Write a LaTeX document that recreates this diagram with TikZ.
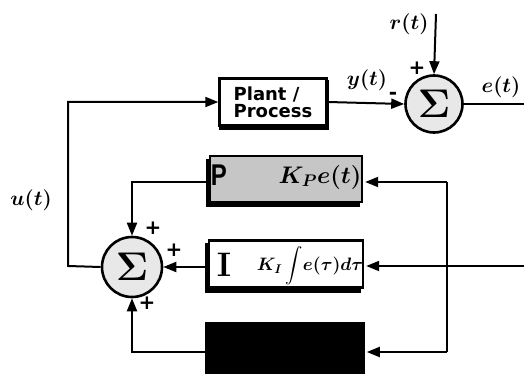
\RequirePackage{fix-cm}
\documentclass[tikz,border=0pt]{standalone}
\usepackage{fontspec}
\usepackage{amsmath}
\newfontfamily\plantfont{DejaVu Sans}
\newfontfamily\pfont{Liberation Sans}
\usetikzlibrary{arrows.meta,calc,backgrounds}
\tikzset{
  conn/.style={line width=2pt},
  arr/.style={conn,-{Triangle[length=13pt,width=10pt]}},
  sumnode/.style={circle,draw,line width=2.6pt,fill=gray!18,minimum size=57pt,inner sep=0pt,font=\fontsize{40}{40}\selectfont\boldmath},
  blk/.style={draw,line width=2.4pt,inner sep=0pt,fill=white},
  lbl/.style={font=\fontsize{21}{23}\selectfont\boldmath},
  sgn/.style={font=\fontsize{20}{20}\selectfont\bfseries\plantfont}
}
\begin{document}
\begin{tikzpicture}[x=1pt,y=-1pt]
\useasboundingbox (0,0) rectangle (524,374);
% nodes
\node[sumnode] (sigE) at (434,104) {$\Sigma$};
\node[sumnode,minimum size=60pt] (sigU) at (132,267) {$\Sigma$};
\node[blk,minimum width=107pt,minimum height=47pt,font=\fontsize{18}{17}\selectfont\bfseries\plantfont,align=left] (plant) at (273,102) {Plant /\\Process};
\node[blk,fill=gray!45,minimum width=152pt,minimum height=46pt] (Pbox) at (286,179) {};
\node[font=\fontsize{30}{30}\selectfont\bfseries\pfont,xscale=0.8] (Ptxt) at (219,175) {P};
\node[font=\fontsize{24}{24}\selectfont\boldmath] (Pk) at (320,177) {$K_P e(t)$};
\node[blk,minimum width=154pt,minimum height=47pt] (Ibox) at (286,264) {};
\node[font=\fontsize{34}{34}\selectfont\bfseries] (Itxt) at (224,265) {I};
\node[font=\fontsize{18}{18}\selectfont\boldmath] (Ik) at (310,266) {$K_I\displaystyle\int\! e(\tau)d\tau$};
\node[draw,fill=black,line width=1.6pt,minimum width=158pt,minimum height=50pt,inner sep=0pt] (Dbox) at (285,348) {};
% shadows
\begin{scope}[on background layer]
\fill ([xshift=1pt,yshift=-3pt]plant.south west) rectangle ([xshift=1pt,yshift=-3pt]plant.north east);
\fill ([xshift=-3pt,yshift=-4pt]Pbox.south west) rectangle ([xshift=-3pt,yshift=-4pt]Pbox.north east);
\fill ([xshift=-3pt,yshift=-4pt]Ibox.south west) rectangle ([xshift=-3pt,yshift=-4pt]Ibox.north east);
\end{scope}
% coordinates
\coordinate (rtop) at (436,14);
\coordinate (eEnd) at (524,104);
\coordinate (iIn) at (524,266);
\coordinate (vtop) at (447,182);
\coordinate (vbot) at (447,352);
\coordinate (uCorner) at (68,266);
% connectors
\draw[arr] (rtop) -- (sigE.north);
\draw[conn] (sigE.east) -- (eEnd);
\draw[arr] (plant.east) -- (sigE.west);
\draw[arr] (sigU.west) -- (uCorner) |- (plant.west);
\draw[conn] (vtop) -- (vbot);
\draw[arr] (vtop) -- ([xshift=2pt]Pbox.east |- vtop);
\draw[arr] (Pbox.west |- vtop) -| (sigU.north);
\draw[arr] (iIn) -- ([xshift=2pt]Ibox.east |- iIn);
\draw[arr] (Ibox.west |- sigU.east) -- (sigU.east);
\draw[arr] (vbot) -- ([xshift=2pt]Dbox.east |- vbot);
\draw[arr] (Dbox.west |- vbot) -| (sigU.south);
% labels
\node[lbl] (rl) at (409,24) {$r(t)$};
\node[lbl] (el) at (501,87) {$e(t)$};
\node[lbl] (yl) at (367,80) {$y(t)$};
\node[lbl] (ul) at (31,200) {$u(t)$};
\node[sgn] (s1) at (417,68) {+};
\node[sgn] (s2) at (393,96) {-};
\node[sgn] (s3) at (153,228) {+};
\node[sgn] (s4) at (174,250) {+};
\node[sgn] (s5) at (147,303) {+};
\end{tikzpicture}
\end{document}
